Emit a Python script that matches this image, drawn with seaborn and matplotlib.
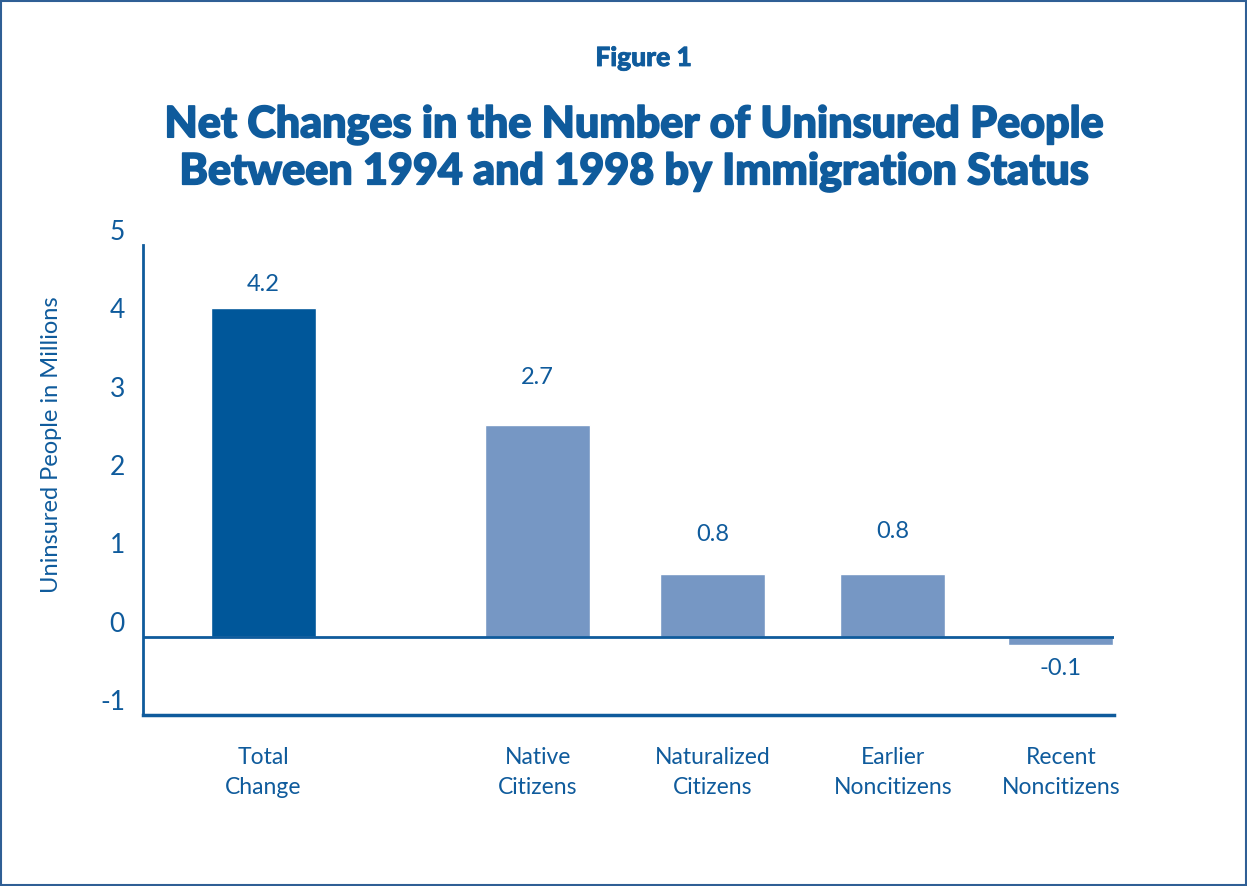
import numpy as np
import pandas as pd
import seaborn as sns
import matplotlib.pyplot as plt
import matplotlib.patheffects as pe
from matplotlib.patches import Rectangle

# Chart data
categories = ["Total\nChange", "Native\nCitizens", "Naturalized\nCitizens",
              "Earlier\nNoncitizens", "Recent\nNoncitizens"]
values = [4.2, 2.7, 0.8, 0.8, -0.1]
value_labels = ["4.2", "2.7", "0.8", "0.8", "-0.1"]
y_ticks = [-1, 0, 1, 2, 3, 4, 5]

# layout (bar centres along the axis, label gaps in points)
x_pos = [0, 1.57, 2.57, 3.6, 4.56]
label_pad = [9, 27, 21, 23, 10]

dark = "#00579A"
light = "#7697C4"
text_blue = "#0F5B9C"

sns.set_theme(style="white")
plt.rcParams["font.family"] = ["Lato", "DejaVu Sans"]

df = pd.DataFrame({"pos": x_pos, "value": values, "cat": categories})

fig = plt.figure(figsize=(12.47, 8.86), dpi=100)
ax = fig.add_axes([143 / 1247, 171 / 886, 971 / 1247, 470 / 886])

min_gap = np.min(np.diff(x_pos))
sns.barplot(data=df, x="pos", y="value", hue="cat", native_scale=True,
            palette=[dark, light, light, light, light], width=0.6 / min_gap,
            legend=False, saturation=1, ax=ax)

ax.set_xlim(-0.686, 4.863)
ax.set_ylim(-1, 5)
ax.set_yticks(y_ticks)
ax.set_yticklabels([str(t) for t in y_ticks], fontsize=19, color=text_blue)
for lab in ax.get_yticklabels():
    lab.set_verticalalignment("bottom")
ax.tick_params(axis="y", length=0, pad=13)
ax.set_xticks(x_pos)
ax.set_xticklabels(categories, fontsize=16.5, color=text_blue, linespacing=1.55)
ax.tick_params(axis="x", length=0, pad=23)
ax.set_xlabel("")
ax.set_ylabel("Uninsured People in Millions", fontsize=17, color=text_blue)
ax.yaxis.set_label_coords(-0.083, (715 - 445) / 470)

for side in ["top", "right"]:
    ax.spines[side].set_visible(False)
ax.spines["left"].set_color(text_blue)
ax.spines["left"].set_linewidth(2)
ax.spines["bottom"].set_color(text_blue)
ax.spines["bottom"].set_linewidth(2.5)
ax.axhline(0, color=text_blue, lw=2, zorder=1)

for x, v, s, p in zip(x_pos, values, value_labels, label_pad):
    ax.annotate(s, (x, v), xytext=(0, p if v >= 0 else -p), textcoords="offset points",
                ha="center", va="bottom" if v >= 0 else "top",
                fontsize=17, color=text_blue)

fig.text(0.516, 1 - 58 / 886, "Figure 1", ha="center", va="center",
         fontsize=19, fontweight="black", color=text_blue,
         path_effects=[pe.withStroke(linewidth=0.6, foreground=text_blue)])
fig.text(0.508, 1 - 148 / 886,
         "Net Changes in the Number of Uninsured People\nBetween 1994 and 1998 by Immigration Status",
         ha="center", va="center", fontsize=31, fontweight="black",
         color=text_blue, linespacing=1.2,
         path_effects=[pe.withStroke(linewidth=1.2, foreground=text_blue)])

fig.patches.append(Rectangle((0.001, 0.001), 0.998, 0.998, transform=fig.transFigure,
                             fill=False, edgecolor="#2F5F95", lw=1.5))

fig.savefig("out.png", dpi=100)
